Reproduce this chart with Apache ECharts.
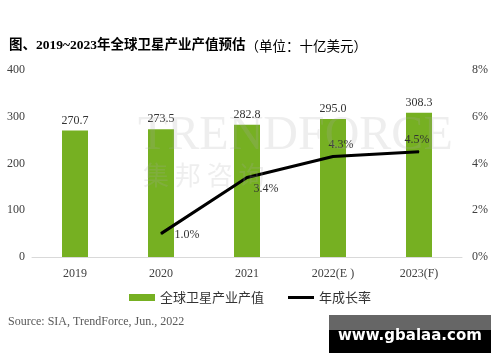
<!DOCTYPE html>
<html><head><meta charset="utf-8">
<script src="https://cdn.jsdelivr.net/npm/echarts@6/dist/echarts.min.js"></script>
<style>html,body{margin:0;padding:0;background:#fff;}#c{width:500px;height:362px;}</style>
</head><body><div id="c"></div>
<script>
const categories = ['2019', '2020', '2021', '2022(E )', '2023(F)'];
const outputValues = [270.7, 273.5, 282.8, 295.0, 308.3];
const growthRates = [null, 1.0, 3.4, 4.3, 4.5];
const leftTicks = [0, 100, 200, 300, 400];
const rightTicks = [0, 2, 4, 6, 8];

const serif = '"Liberation Serif","Times New Roman","Noto Sans CJK SC",serif';
const cjk = '"Noto Sans CJK SC",sans-serif';
const lineLabelPos = [
  null,
  {show: true, position: 'right', offset: [8, 1]},
  {show: true, position: 'right', offset: [1, 11]},
  {show: true, position: 'top', offset: [8, 0]},
  {show: true, position: 'top', offset: [-2, 0]}
];

const chart = echarts.init(document.getElementById('c'));
chart.setOption({
  animation: false,
  backgroundColor: '#fff',
  title: {
    text: '{b|图、2019~2023年全球卫星产业产值预估}{n|（单位：十亿美元）}',
    left: 4, top: 34,
    textStyle: {
      rich: {
        b: {fontFamily: '"Liberation Serif","Noto Sans CJK SC",serif', fontWeight: 'bold', fontSize: 13.5, color: '#000'},
        n: {fontFamily: '"Noto Sans CJK SC",sans-serif', fontWeight: 'normal', fontSize: 13.5, color: '#000'}
      }
    }
  },
  grid: {left: 32, right: 38, top: 70, bottom: 105},
  legend: {
    bottom: 53, left: 'center', itemGap: 24, itemWidth: 26, itemHeight: 7,
    textStyle: {fontFamily: cjk, fontSize: 13, color: '#333'},
    data: [
      {name: '全球卫星产业产值', icon: 'rect'},
      {name: '年成长率', icon: 'path://M0,0 L26,0 L26,3 L0,3 Z', itemStyle: {color: '#000'}}
    ]
  },
  xAxis: {
    type: 'category', data: categories,
    axisLine: {lineStyle: {color: '#d9d9d9', width: 1}},
    axisTick: {show: false},
    axisLabel: {fontFamily: serif, fontSize: 12, color: '#404040', margin: 11}
  },
  yAxis: [
    {type: 'value', min: leftTicks[0], max: leftTicks[leftTicks.length - 1], interval: 100,
     splitLine: {show: false}, axisLine: {show: false}, axisTick: {show: false},
     axisLabel: {fontFamily: serif, fontSize: 12, color: '#404040', margin: 7}},
    {type: 'value', min: rightTicks[0], max: rightTicks[rightTicks.length - 1], interval: 2,
     splitLine: {show: false}, axisLine: {show: false}, axisTick: {show: false},
     axisLabel: {fontFamily: serif, fontSize: 12, color: '#404040', margin: 10, formatter: '{value}%'}}
  ],
  graphic: [
    {type: 'text', left: 138, top: 112, z: 100, silent: true,
     style: {text: 'TRENDFORCE', font: '48px "Liberation Serif",serif', fill: 'rgba(170,170,170,0.2)'}},
    {type: 'text', left: 143, top: 162, z: 100, silent: true,
     style: {text: '集 邦 咨 询', font: '26px "Noto Sans CJK SC",sans-serif', fill: 'rgba(170,170,170,0.2)'}},
    {type: 'text', left: 8, top: 316,
     style: {text: 'Source: SIA, TrendForce, Jun., 2022', font: '12px "Liberation Serif",serif', fill: '#595959'}},
    {type: 'rect', left: 329, top: 315, shape: {width: 162, height: 38}, style: {fill: '#000'}},
    {type: 'rect', left: 329, top: 315, shape: {width: 162, height: 15}, style: {fill: '#666'}},
    {type: 'text', left: 338, top: 329,
     style: {text: 'www.gbalaa.com', font: 'bold 15px "DejaVu Sans",sans-serif', fill: '#fff'}}
  ],
  series: [
    {
      name: '全球卫星产业产值', type: 'bar', data: outputValues, barWidth: 26,
      itemStyle: {color: '#76b022'},
      label: {show: true, position: 'top', distance: 4, fontFamily: serif, fontSize: 12, color: '#333',
              formatter: p => p.value.toFixed(1)}
    },
    {
      name: '年成长率', type: 'line', yAxisIndex: 1, symbol: 'circle', symbolSize: 1, showSymbol: true,
      lineStyle: {color: '#000', width: 3}, itemStyle: {color: '#000'},
      data: growthRates.map((v, i) => v == null ? null : {value: v, label: lineLabelPos[i]}),
      label: {show: true, fontFamily: serif, fontSize: 12, color: '#333', formatter: p => p.value.toFixed(1) + '%'}
    }
  ]
});
</script></body></html>
